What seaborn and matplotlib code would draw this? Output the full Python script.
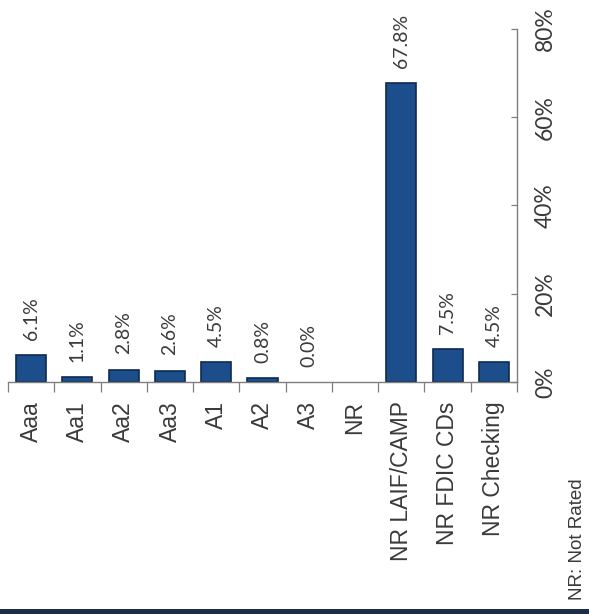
import matplotlib
matplotlib.use("Agg")
import matplotlib.pyplot as plt
from matplotlib.patches import Rectangle
from matplotlib.ticker import FixedLocator
import numpy as np
import pandas as pd
import seaborn as sns

# Portfolio allocation by credit rating (percent of total)
ratings = ["Aaa", "Aa1", "Aa2", "Aa3", "A1", "A2", "A3", "NR",
           "NR LAIF/CAMP", "NR FDIC CDs", "NR Checking"]
shares = [6.1, 1.1, 2.8, 2.6, 4.5, 0.8, 0.0, np.nan, 67.8, 7.5, 4.5]
axis_ticks = [0, 20, 40, 60, 80]
axis_labels = ["0%", "20%", "40%", "60%", "80%"]
footnote = "NR: Not Rated"

df = pd.DataFrame({"rating": ratings, "share": shares})

sns.set_theme(style="white")
plt.rcParams["font.family"] = ["Liberation Sans", "DejaVu Sans"]

W, H = 589, 614
fig = plt.figure(figsize=(W / 100, H / 100), dpi=100)
fig.patch.set_facecolor("white")

left, right, bottom, top = 8, 517, 382, 29
ax = fig.add_axes([left / W, (H - bottom) / H, (right - left) / W, (bottom - top) / H])

bar_color = "#1b4e8a"
sns.barplot(data=df, x="rating", y="share", order=ratings, color=bar_color,
            saturation=1, width=0.65, ax=ax, errorbar=None)
for p in ax.patches:
    if p.get_height() > 0:
        p.set_edgecolor("#0e2b52")
        p.set_linewidth(1.2)
    else:
        p.set_linewidth(0)

ax.set_xlim(-0.5, len(ratings) - 0.5)
ax.set_ylim(0, 80)
ax.set_xlabel("")
ax.set_ylabel("")

txt_color = "#3a3a3a"
spine_color = "#7f7f7f"

# value labels above each bar
for i, v in enumerate(shares):
    if np.isnan(v):
        continue
    ax.annotate(f"{v:.1f}%", xy=(i, v), xytext=(0, 11), textcoords="offset points",
                rotation=90, ha="center", va="bottom", fontsize=14,
                color=txt_color, family=["Lato", "DejaVu Sans"])

# category axis: labels at centres, ticks at boundaries
ax.set_xticks(range(len(ratings)))
ax.set_xticklabels(ratings, rotation=90, ha="center", va="top",
                   fontsize=16.5, color=txt_color)
ax.tick_params(axis="x", which="major", length=0, pad=14)
ax.xaxis.set_minor_locator(FixedLocator(np.arange(-0.5, len(ratings), 1.0)))
ax.tick_params(axis="x", which="minor", bottom=True, direction="out",
               length=7, width=0.9, color=spine_color)

# value axis on the right
ax.yaxis.tick_right()
ax.set_yticks(axis_ticks)
ax.set_yticklabels(axis_labels, rotation=90, va="center", ha="left",
                   fontsize=16.5, color=txt_color, family=["Lato", "DejaVu Sans"])
ax.tick_params(axis="y", which="major", right=True, left=False, direction="in",
               length=4, width=0.9, color=spine_color, pad=13)

for side in ["left", "top"]:
    ax.spines[side].set_visible(False)
for side in ["bottom", "right"]:
    ax.spines[side].set_color(spine_color)
    ax.spines[side].set_linewidth(1.0)

fig.text(577 / W, (H - 600) / H, footnote, rotation=90, ha="center", va="bottom",
         fontsize=13.5, color=txt_color)

# dark band along the bottom edge
fig.patches.append(Rectangle((0, 0), 1, 5 / H, transform=fig.transFigure,
                             facecolor="#1c2f48", edgecolor="none"))

fig.savefig("out.png", dpi=100)
